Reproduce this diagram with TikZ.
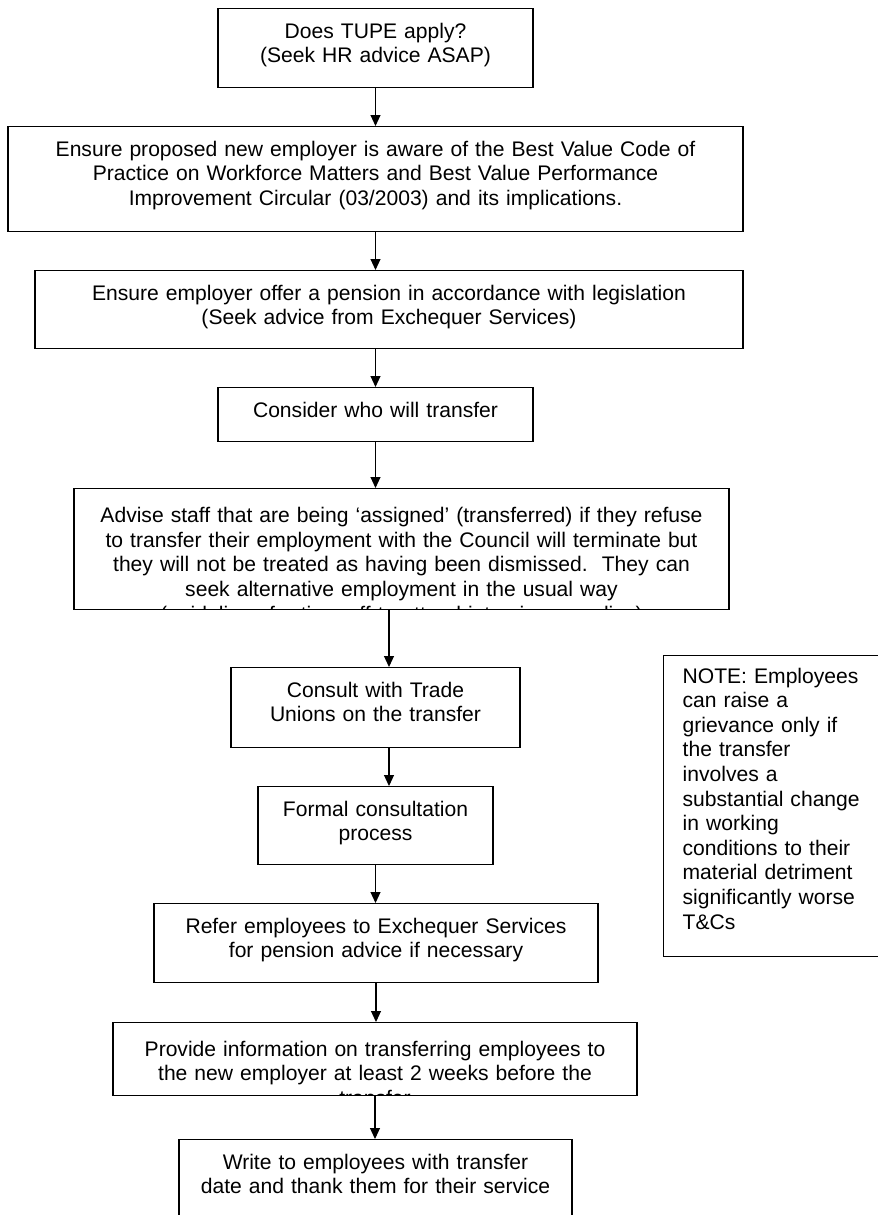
\documentclass[tikz,border=0pt]{standalone}
\usepackage{fontspec}
\setmainfont{Liberation Sans}
\usetikzlibrary{arrows.meta}

\begin{document}
\begin{tikzpicture}[
            every node/.style={font=\fontsize{12pt}{14pt}\selectfont},
            box/.style={draw, line width=0.75pt, anchor=north, align=center,
                        inner xsep=0pt, inner ysep=0pt, text height=0.59cm},
            notebox/.style={draw, line width=0.75pt, anchor=north west, align=left,
                        inner xsep=0.38cm, inner ysep=0pt, text height=0.55cm},
            arrow/.style={-{Triangle[length=2.2mm, width=2mm]}, line width=0.6pt}
      ]
      % Page (878 x 1215 px, 0.02cm per px)
      \path[use as bounding box, clip] (0, 0) rectangle (17.56, -24.3);

      % Upper steps
      \node[box, text width=6.30cm, text depth=0.99cm] (tupe) at (7.51, -0.16)
            {Does TUPE apply?\\(Seek HR advice ASAP)};
      \node[box, text width=14.70cm, text depth=1.51cm] (aware) at (7.51, -2.52)
            {Ensure proposed new employer is aware of the Best Value Code of\\
             Practice on Workforce Matters and Best Value Performance\\
             Improvement Circular (03/2003) and its implications.};
      \node[box, text width=14.16cm, text depth=0.97cm] (pension) at (7.78, -5.40)
            {Ensure employer offer a pension in accordance with legislation\\
             (Seek advice from Exchequer Services)};
      \node[box, text width=6.30cm, text depth=0.49cm] (who) at (7.51, -7.74)
            {Consider who will transfer};

      % Last line runs past the bottom edge
      \begin{scope}
            \clip (1.45, -9.73) rectangle (14.61, -12.193);
            \node[box, text width=13.10cm, text height=0.68cm, text depth=1.74cm] (advise) at (8.03, -9.76)
                  {Advise staff that are being ‘assigned’ (transferred) if they refuse\\
                   to transfer their employment with the Council will terminate but\\
                   they will not be treated as having been dismissed.\ \ They can\\
                   seek alternative employment in the usual way\\
                   (guidelines for time off to attend interviews applies)};
      \end{scope}

      % Lower steps
      \node[box, text width=5.78cm, text depth=1.01cm] (unions) at (7.51, -13.34)
            {Consult with Trade\\Unions on the transfer};
      \node[box, text width=4.70cm, text depth=0.97cm] (formal) at (7.51, -15.72)
            {Formal consultation\\process};
      \node[box, text width=8.88cm, text depth=0.99cm] (refer) at (7.52, -18.06)
            {Refer employees to Exchequer Services\\for pension advice if necessary};
      \begin{scope}
            \clip (2.23, -20.41) rectangle (12.77, -21.913);
            \node[box, text width=10.48cm, text height=0.67cm, text depth=0.79cm] (provide) at (7.50, -20.44)
                  {Provide information on transferring employees to\\
                   the new employer at least 2 weeks before the\\
                   transfer};
      \end{scope}
      \node[box, text width=7.86cm, text depth=1.81cm] (write) at (7.51, -22.78)
            {Write to employees with transfer\\date and thank them for their service};

      % Side note
      \node[notebox, text width=3.78cm, text depth=5.47cm] (note) at (13.26, -13.10)
            {NOTE: Employees\\can raise a\\grievance only if\\the transfer\\involves a\\
             substantial change\\in working\\conditions to their\\material detriment\\
             significantly worse\\T\&Cs};

      \coordinate (drop) at ([xshift=0.27cm]unions.north);
      \coordinate (rise) at ([xshift=0.27cm]unions.south);

      \draw[arrow] (tupe.south) -- (tupe.south |- aware.north);
      \draw[arrow] (aware.south) -- (aware.south |- pension.north);
      \draw[arrow] (who.north |- pension.south) -- (who.north);
      \draw[arrow] (who.south) -- (who.south |- advise.north);
      \draw[arrow] (drop |- advise.south) -- (drop);
      \draw[arrow] (rise) -- (rise |- formal.north);
      \draw[arrow] (formal.south) -- (formal.south |- refer.north);
      \draw[arrow] (refer.south) -- (refer.south |- provide.north);
      \draw[arrow] (provide.south) -- (provide.south |- write.north);
\end{tikzpicture}
\end{document}
